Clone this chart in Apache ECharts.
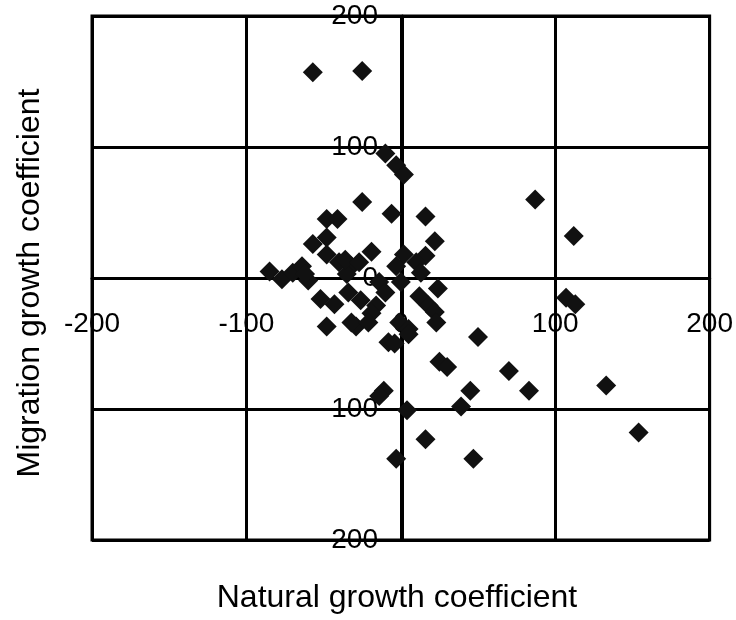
<!DOCTYPE html>
<html>
<head>
<meta charset="utf-8">
<script src="https://cdn.jsdelivr.net/npm/echarts@6/dist/echarts.min.js"></script>
<style>
html,body{margin:0;padding:0;background:#fff;}
#chart{width:736px;height:620px;}
</style>
</head>
<body>
<div id="chart"></div>
<script>
const xTitle = 'Natural growth coefficient';
const yTitle = 'Migration growth coefficient';
const axisMin = -200;
const axisMax = 200;
const axisStep = 100;
const naturalGrowth = [-57,-25,-10,-3,2,87,-25,-6,16,-48,-41,112,22,-57,-48,-48,-40,-32,-35,-36,-27,-19,2,16,10,13,-3,-85,-77,-70,-64,-60,-62,0,-14,24,107,113,-52,-43,-34,-26,-10,-16,12,18,22,-19,-48,-29,-32,-21,-1,23,5,-8,5,-4,50,25,30,70,133,45,83,-11,-14,4,39,16,-3,47,154];
const migrationGrowth = [157,158,95,86,79,60,58,49,47,45,45,32,28,26,31,18,12,9,3,14,12,20,18,17,12,4,9,5,-1,4,9,-2,3,-3,-3,-8,-15,-20,-16,-20,-11,-17,-11,-21,-14,-21,-26,-27,-37,-37,-34,-34,-34,-34,-39,-49,-43,-50,-45,-64,-68,-71,-82,-86,-86,-86,-90,-101,-98,-123,-138,-138,-118];

const points = naturalGrowth.map((x, i) => [x, migrationGrowth[i]]);
const font = 'Liberation Sans, Arial, sans-serif';
const gridLeft = 92, gridRight = 24, gridTop = 16, gridBottom = 80;
const gridW = 736 - gridLeft - gridRight;
const gridH = 620 - gridTop - gridBottom;
const chart = echarts.init(document.getElementById('chart'));
chart.setOption({
  animation: false,
  grid: {left: gridLeft, right: gridRight, top: gridTop, bottom: gridBottom, show: true, borderColor: '#000', borderWidth: 3},
  xAxis: {
    type: 'value', min: axisMin, max: axisMax, interval: axisStep,
    position: 'bottom', offset: -gridH / 2,
    axisLine: {show: true, onZero: false, lineStyle: {color: '#000', width: 3}},
    axisTick: {show: false},
    axisLabel: {color: '#000', fontSize: 28, fontFamily: font, margin: 32, showMinLabel: true, showMaxLabel: true},
    splitLine: {show: true, lineStyle: {color: '#000', width: 3}}
  },
  yAxis: {
    type: 'value', min: axisMin, max: axisMax, interval: axisStep,
    position: 'left', offset: -gridW / 2,
    axisLine: {show: true, onZero: false, lineStyle: {color: '#000', width: 3}},
    axisTick: {show: false},
    axisLabel: {color: '#000', fontSize: 28, fontFamily: font, margin: 24, showMinLabel: true, showMaxLabel: true},
    splitLine: {show: true, lineStyle: {color: '#000', width: 3}}
  },
  graphic: [
    {type: 'text', x: 397, y: 598, style: {text: xTitle, fill: '#000', font: '32px ' + font, textAlign: 'center', textVerticalAlign: 'middle'}},
    {type: 'text', rotation: Math.PI / 2, x: 30, y: 283, style: {text: yTitle, fill: '#000', font: '32px ' + font, textAlign: 'center', textVerticalAlign: 'middle'}}
  ],
  series: [{
    type: 'scatter',
    data: points,
    symbol: 'diamond',
    symbolSize: 20,
    itemStyle: {color: '#111', opacity: 1}
  }]
});
</script>
</body>
</html>
